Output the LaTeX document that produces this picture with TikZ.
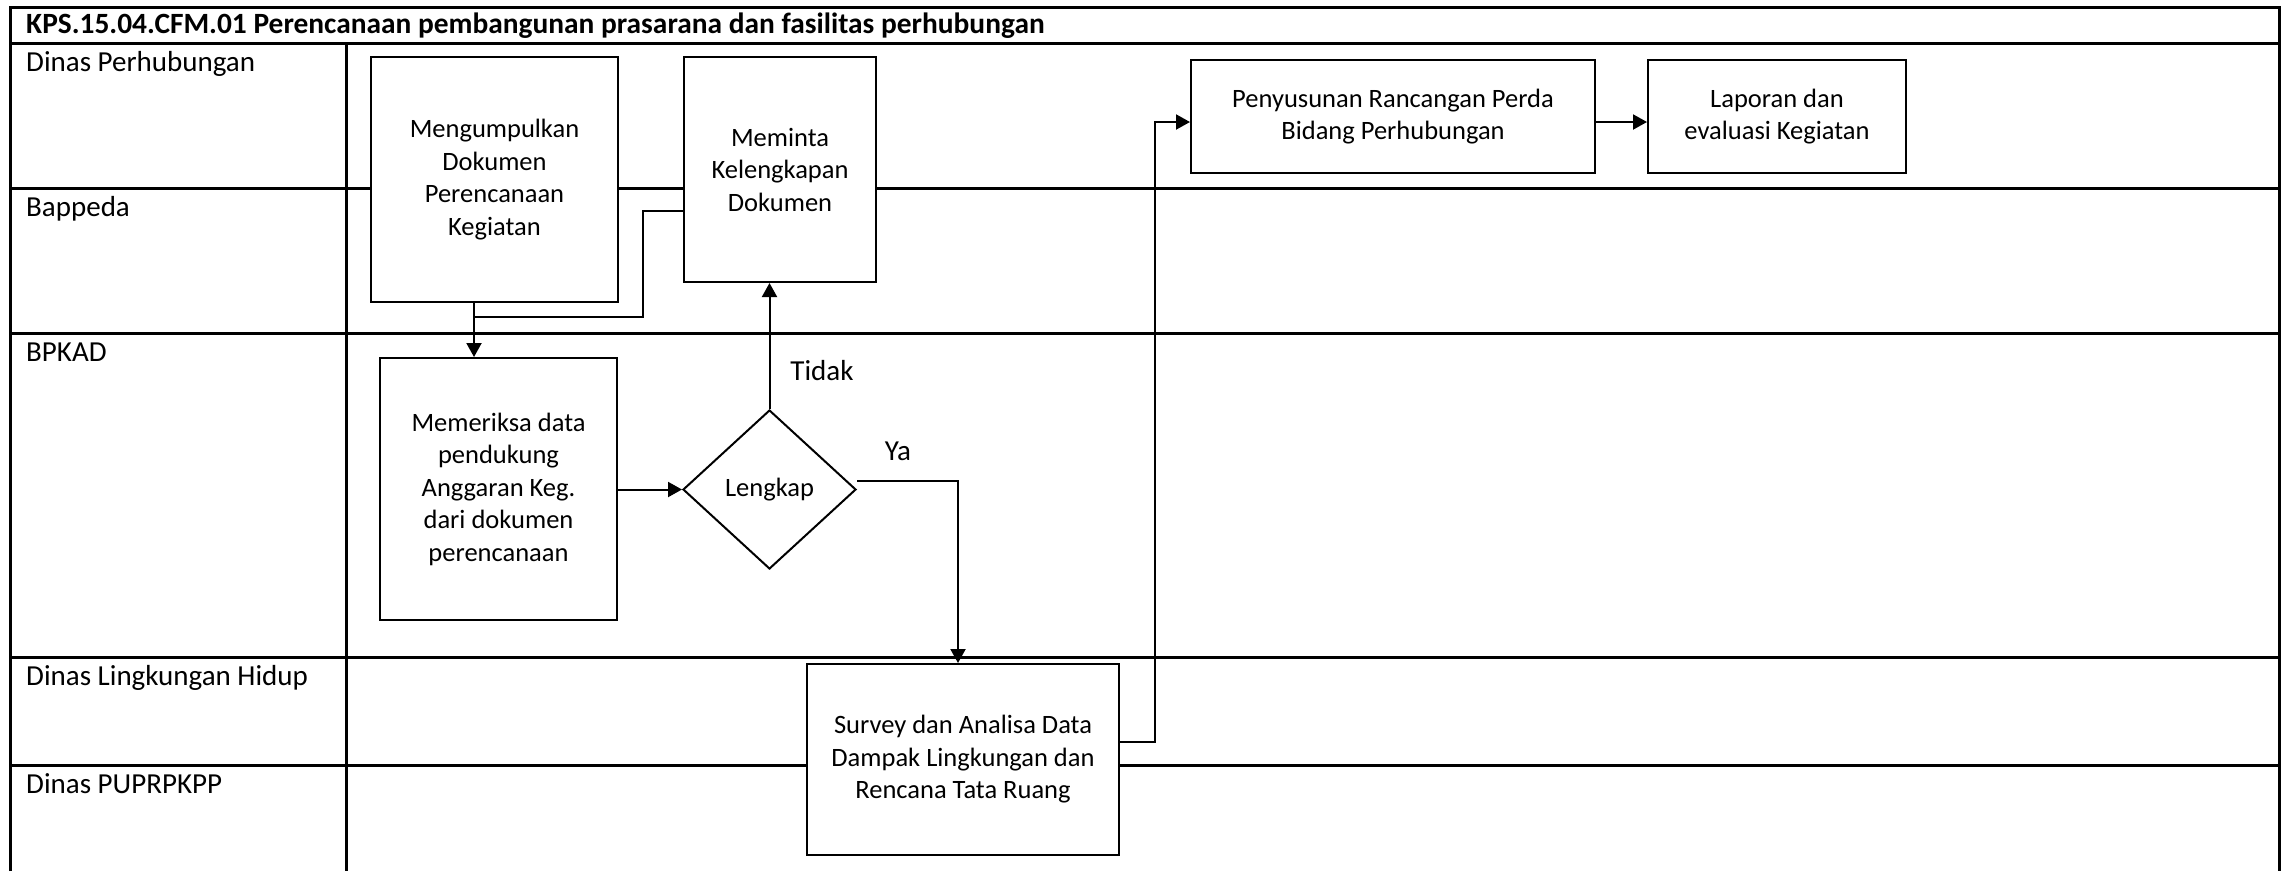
\documentclass[tikz,border=0pt]{standalone}
\usepackage{fontspec}
\setmainfont{Carlito}
\usetikzlibrary{arrows.meta,shapes.geometric}
\begin{document}
\begin{tikzpicture}[x=1pt,y=-1pt,
  box/.style={draw,line width=2pt,fill=white,inner sep=0pt,align=center,font=\fontsize{26.5}{32.5}\selectfont},
  lane/.style={line width=3pt},
  conn/.style={line width=2pt},
  arr/.style={conn,-{Triangle[length=14pt,width=15pt]}},
  lbl/.style={anchor=base west,inner sep=0pt,font=\fontsize{29}{34}\selectfont},
  note/.style={inner sep=0pt,font=\fontsize{29}{34}\selectfont}]
\useasboundingbox (0,0) rectangle (2284,871);
% frame and lanes
\draw[lane] (10,871) -- (10,7) -- (2279,7) -- (2279,871);
\draw[lane] (10,43) -- (2279,43);
\draw[lane] (10,188) -- (2279,188);
\draw[lane] (10,333) -- (2279,333);
\draw[lane] (10,657) -- (2279,657);
\draw[lane] (10,765) -- (2279,765);
\draw[lane] (346,43) -- (346,871);
% title and lane labels
\node[anchor=base west,inner sep=0pt,font=\bfseries\fontsize{29.4}{34}\selectfont] (title) at (26,33.5) {KPS.15.04.CFM.01 Perencanaan pembangunan prasarana dan fasilitas perhubungan};
\node[lbl] (l1) at (26,71) {Dinas Perhubungan};
\node[lbl] (l2) at (26,216) {Bappeda};
\node[lbl] (l3) at (26,361) {BPKAD};
\node[lbl] (l4) at (26,685) {Dinas Lingkungan Hidup};
\node[lbl] (l5) at (26,793) {Dinas PUPRPKPP};
% process nodes
\node[box,minimum width=247pt,minimum height=245pt] (n1) at (494.5,179.5) {Mengumpulkan\\Dokumen\\Perencanaan\\Kegiatan};
\node[box,minimum width=192pt,minimum height=225pt] (n2) at (780,169.5) {Meminta\\Kelengkapan\\Dokumen};
\node[box,minimum width=237pt,minimum height=262pt] (n3) at (498.5,489) {Memeriksa data\\pendukung\\Anggaran Keg.\\dari dokumen\\perencanaan};
\node[box,diamond,minimum width=173pt,minimum height=159pt] (d) at (769.5,489.5) {Lengkap};
\node[box,minimum width=312pt,minimum height=191pt] (n4) at (963,759.5) {Survey dan Analisa Data\\Dampak Lingkungan dan\\Rencana Tata Ruang};
\node[box,minimum width=404pt,minimum height=113pt] (n5) at (1393,116.5) {Penyusunan Rancangan Perda\\Bidang Perhubungan};
\node[box,minimum width=258pt,minimum height=113pt] (n6) at (1777,116.5) {Laporan dan\\evaluasi Kegiatan};
% helper coordinates
\coordinate (cx) at (474,0);
\coordinate (j1) at (474,317);
\coordinate (k1) at (643,211);
\coordinate (ya) at (958,481);
\coordinate (c6) at (1155,742);
\coordinate (c7) at (1155,122);
% connectors
\draw[arr] (n1.south -| cx) -- (n3.north -| cx);
\draw[conn] (j1) -| (k1) -- (k1 -| n2.west);
\draw[arr] (n3.east |- d.west) -- (d.west);
\draw[arr] (d.north) -- (d.north |- n2.south);
\draw[arr] (d.east |- ya) -- (ya) -- (ya |- n4.north);
\draw[arr] (n4.east |- c6) -- (c6) -- (c7) -- (c7 -| n5.west);
\draw[arr] (n5.east |- c7) -- (n6.west |- c7);
% labels
\node[note] (tidak) at (822,371) {Tidak};
\node[note] (yalbl) at (898,451) {Ya};
\end{tikzpicture}
\end{document}
